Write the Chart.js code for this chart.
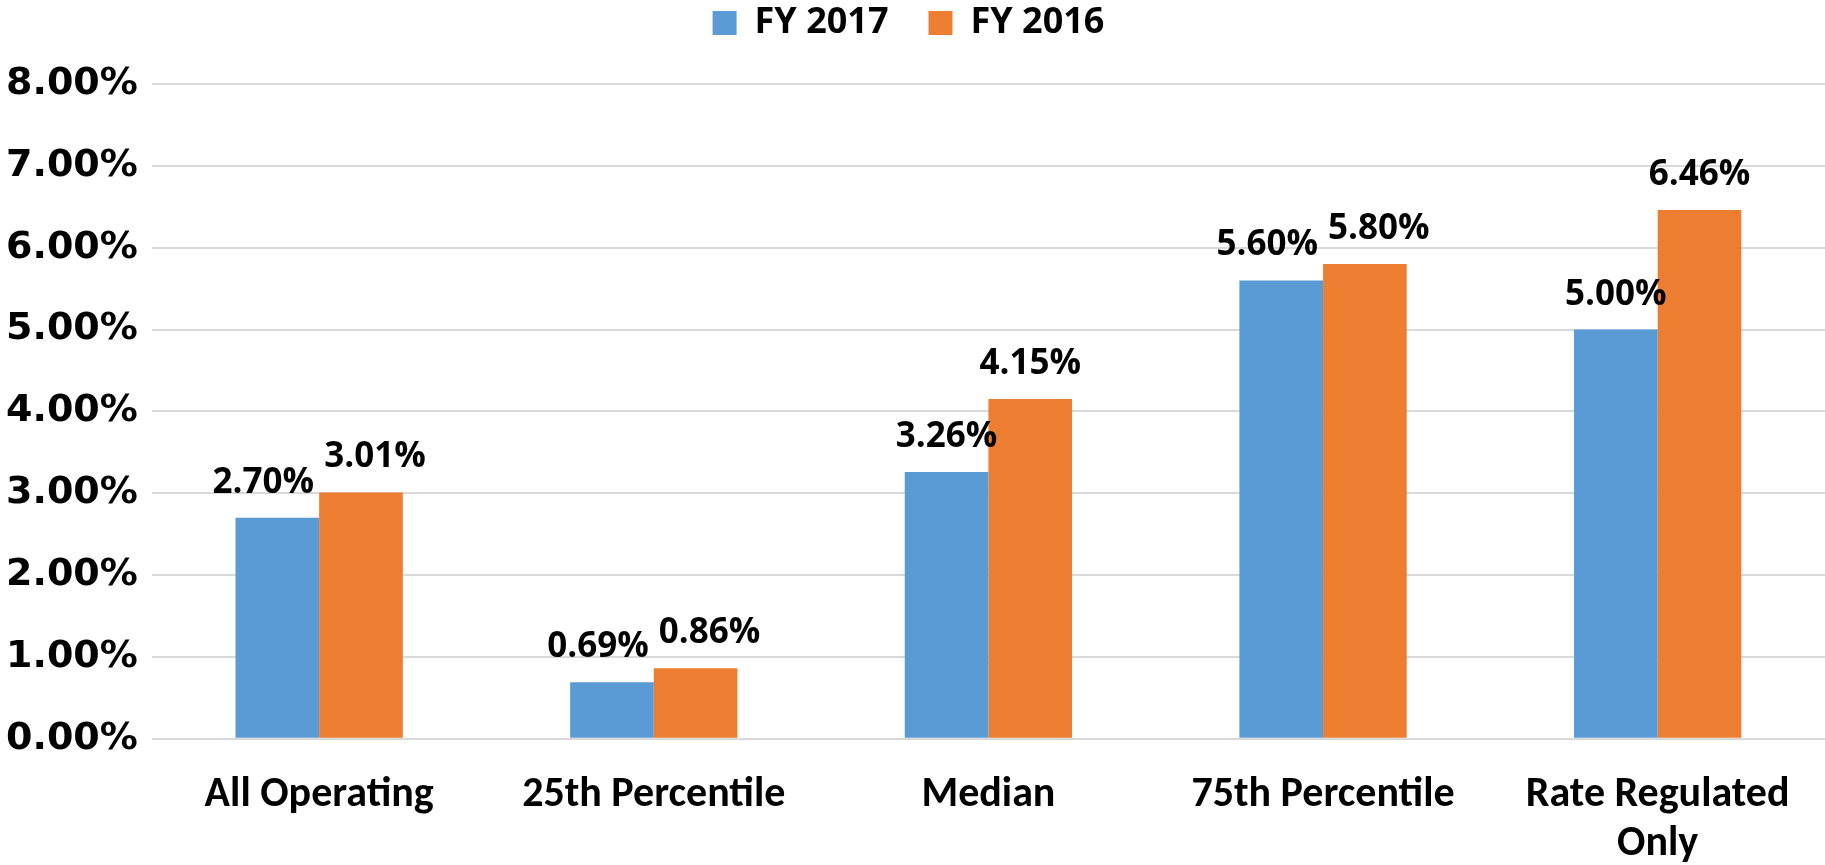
<!DOCTYPE html>
<html>
<head>
<meta charset="utf-8">
<script src="https://cdn.jsdelivr.net/npm/chart.js@4.4.1/dist/chart.umd.min.js"></script>
<style>
  html, body { margin: 0; padding: 0; background: #fff; }
  #wrap { width: 1825px; height: 865px; position: relative; }
</style>
</head>
<body>
<div id="wrap"><canvas id="chart"></canvas></div>
<script>
const categories = ['All Operating', '25th Percentile', 'Median', '75th Percentile', ['Rate Regulated', 'Only']]
const fy2017 = [2.70, 0.69, 3.26, 5.60, 5.00]
const fy2016 = [3.01, 0.86, 4.15, 5.80, 6.46]
const yTicks = [0, 1, 2, 3, 4, 5, 6, 7, 8]

const blue = '#5B9BD5'
const orange = '#ED7D31'

// value labels above the bars, pushed apart when a pair would collide
const barLabels = {
    id: 'barLabels',
    afterDatasetsDraw(chart) {
        const ctx = chart.ctx
        ctx.save()
        ctx.font = 'bold 35px "Open Sans"'
        ctx.fillStyle = '#000'
        ctx.textAlign = 'center'
        ctx.textBaseline = 'alphabetic'
        const a = chart.getDatasetMeta(0).data
        const b = chart.getDatasetMeta(1).data
        a.forEach((barA, i) => {
            const barB = b[i]
            const tA = chart.data.datasets[0].data[i].toFixed(2) + '%'
            const tB = chart.data.datasets[1].data[i].toFixed(2) + '%'
            const wA = ctx.measureText(tA).width
            const wB = ctx.measureText(tB).width
            let xA = barA.x, xB = barB.x
            const yA = barA.y - 25, yB = barB.y - 25
            const need = (wA + wB) / 2 + 10
            if (Math.abs(yA - yB) < 30 && xB - xA < need) {
                const shift = (need - (xB - xA)) / 2
                xA -= shift
                xB += shift
            }
            ctx.fillText(tA, xA, yA)
            ctx.fillText(tB, xB, yB)
        })
        ctx.restore()
    }
}

// legend takes a fixed height so the plot starts where it should
const legendHeight = {
    id: 'legendHeight',
    beforeInit(chart) {
        const fit = chart.legend.fit
        chart.legend.fit = function () {
            fit.call(this)
            this.height = 119
        }
    }
}

const ctx = document.getElementById('chart')
new Chart(ctx, {
    type: 'bar',
    data: {
        labels: categories,
        datasets: [
            { label: 'FY 2017', data: fy2017, backgroundColor: blue },
            { label: 'FY 2016', data: fy2016, backgroundColor: orange }
        ]
    },
    options: {
        responsive: true,
        maintainAspectRatio: false,
        animation: false,
        devicePixelRatio: 1,
        layout: { padding: { left: -8, right: 0, top: -35, bottom: -28 } },
        datasets: { bar: { categoryPercentage: 0.5, barPercentage: 1.0 } },
        plugins: {
            tooltip: { enabled: false },
            legend: {
                position: 'top',
                labels: {
                    color: '#000',
                    font: { family: '"Open Sans"', size: 36, weight: 'bold' },
                    boxWidth: 24,
                    boxHeight: 24,
                    padding: 40
                }
            }
        },
        scales: {
            x: {
                grid: { display: false },
                border: { display: false },
                ticks: {
                    color: '#000',
                    padding: 24,
                    maxRotation: 0,
                    font: { family: '"Carlito", "Lato", sans-serif', size: 42, weight: 'bold', lineHeight: 1.17 }
                }
            },
            y: {
                min: 0,
                max: 8,
                afterBuildTicks(axis) { axis.ticks = yTicks.map(v => ({ value: v })) },
                grid: { color: '#D9D9D9', lineWidth: 2, drawTicks: false },
                border: { display: false },
                ticks: {
                    color: '#000',
                    padding: 14,
                    font: { family: '"DejaVu Sans"', size: 38, weight: 'bold' },
                    callback: v => v.toFixed(2) + '%'
                }
            }
        }
    },
    plugins: [barLabels, legendHeight]
})
</script>
</body>
</html>
